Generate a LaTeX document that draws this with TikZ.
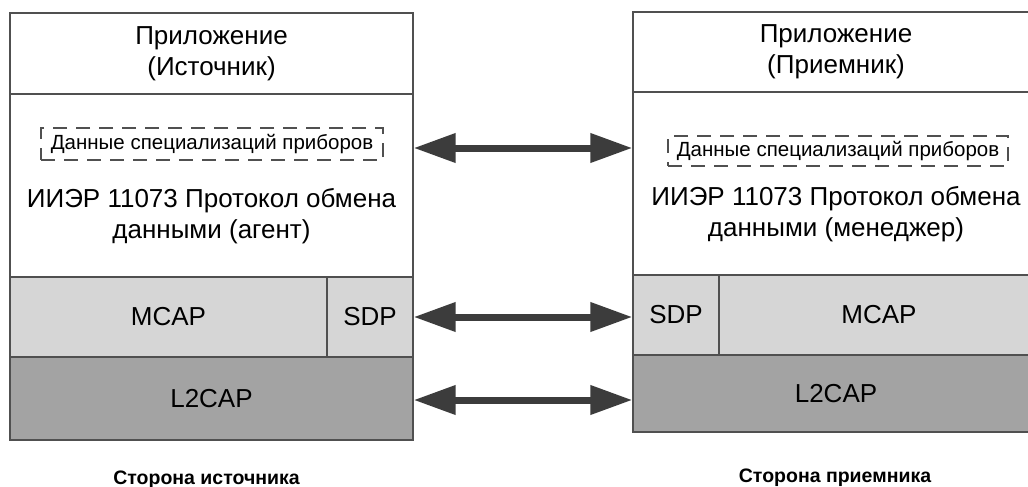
\documentclass[tikz,border=0pt]{standalone}
\usepackage{fontspec}
\setmainfont{Liberation Sans}
\usetikzlibrary{arrows.meta}
\definecolor{edge}{HTML}{505050}
\definecolor{lightlayer}{HTML}{D6D6D6}
\definecolor{darklayer}{HTML}{A3A3A3}
\definecolor{arrowgray}{HTML}{3C3C3C}
\tikzset{
  layer/.style={draw=edge, line width=1.3pt, rectangle, inner sep=0pt, align=center,
    font=\fontsize{26}{31}\selectfont},
  whitebox/.style={layer, fill=white},
  lightbox/.style={layer, fill=lightlayer},
  darkbox/.style={layer, fill=darklayer},
  bodytext/.style={inner sep=0pt, align=center, font=\fontsize{26}{31}\selectfont},
  databox/.style={draw=edge, line width=1.3pt, dash pattern=on 14pt off 9pt, inner sep=0pt,
    font=\fontsize{20.5}{24}\selectfont},
  sidelabel/.style={inner sep=0pt, anchor=base, font=\fontsize{19.5}{23}\selectfont\bfseries},
  biarrow/.style={draw=arrowgray, line width=7pt,
    {Triangle[length=42pt,width=28pt]}-{Triangle[length=42pt,width=28pt]}}
}
\begin{document}
\begin{tikzpicture}[x=1pt, y=-1pt]
  \useasboundingbox (0,0) rectangle (1028,487);
  \clip (0,0) rectangle (1028,487);
  \fill[white] (0,0) rectangle (1028,487);

  % source stack
  \node[whitebox, minimum width=403pt, minimum height=81pt] (lapp) at (211.5,53.5)
    {Приложение\\(Источник)};
  \node[whitebox, minimum width=403pt, minimum height=183pt] (lproto) at (211.5,185.5) {};
  \node[databox, minimum width=342pt, minimum height=32pt] (ldata) at (212,144)
    {Данные специализаций приборов};
  \node[bodytext] (ltext) at (211.5,216) {ИИЭР 11073 Протокол обмена\\данными (агент)};
  \node[lightbox, minimum width=317pt, minimum height=80pt] (lmcap) at (168.5,317) {MCAP};
  \node[lightbox, minimum width=86pt, minimum height=80pt] (lsdp) at (370,317) {SDP};
  \node[darkbox, minimum width=403pt, minimum height=83pt] (ll2) at (211.5,398.5) {L2CAP};

  % sink stack
  \node[whitebox, minimum width=406pt, minimum height=80pt] (rapp) at (836,52)
    {Приложение\\(Приемник)};
  \node[whitebox, minimum width=406pt, minimum height=183pt] (rproto) at (836,183.5) {};
  \node[databox, minimum width=340pt, minimum height=30pt] (rdata) at (838,151)
    {Данные специализаций приборов};
  \node[bodytext] (rtext) at (836,214) {ИИЭР 11073 Протокол обмена\\данными (менеджер)};
  \node[lightbox, minimum width=86pt, minimum height=80pt] (rsdp) at (676,315) {SDP};
  \node[lightbox, minimum width=320pt, minimum height=80pt] (rmcap) at (879,315) {MCAP};
  \node[darkbox, minimum width=406pt, minimum height=77pt] (rl2) at (836,393.5) {L2CAP};

  % captions
  \node[sidelabel] (lcap) at (206.5,484) {Сторона источника};
  \node[sidelabel] (rcap) at (835,482) {Сторона приемника};

  % peer-to-peer exchanges
  \draw[biarrow] ([yshift=-4pt]lproto.east |- ldata.east) -- ([yshift=-4pt]rproto.west |- ldata.east);
  \draw[biarrow] (lsdp.east) -- (rsdp.west |- lsdp.east);
  \draw[biarrow] ([yshift=-1.5pt]ll2.east) -- ([yshift=-1.5pt]rl2.west |- ll2.east);
\end{tikzpicture}
\end{document}
